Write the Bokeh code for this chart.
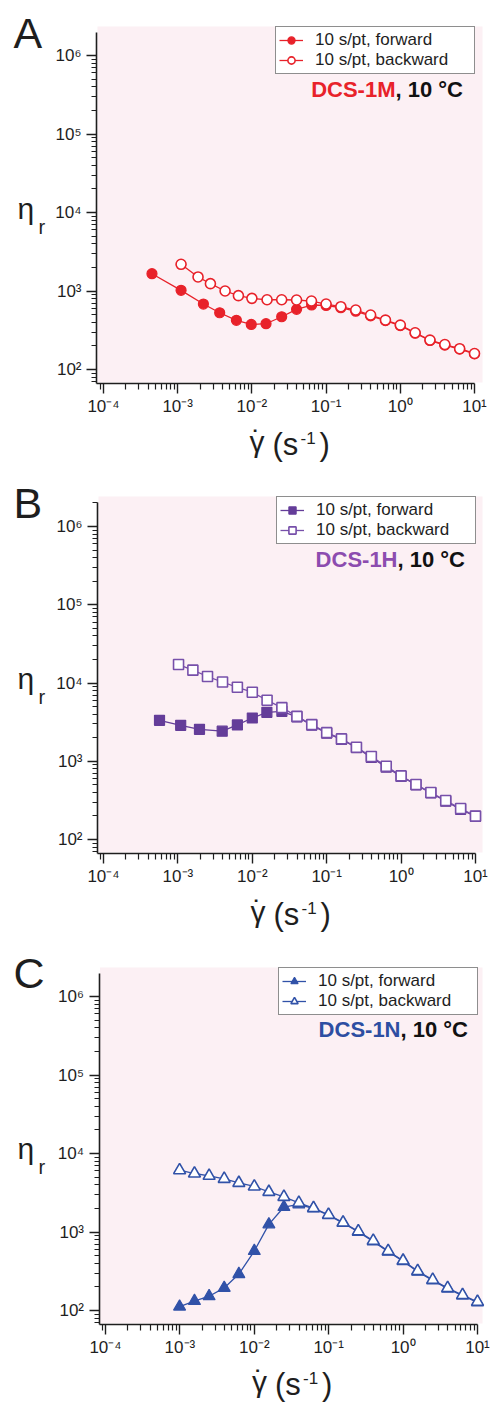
from bokeh.plotting import figure
from bokeh.layouts import column
from bokeh.models import (Range1d, FixedTicker, CustomJSTickFormatter, Label,
                          Legend, LegendItem, BoxAnnotation)
from bokeh.embed import file_html
from bokeh.resources import INLINE

# ---------------- data ----------------
# Panel A: DCS-1M, circles
a_fwd_rate = [4.5e-4, 1.11e-3, 2.22e-3, 3.68e-3, 6.18e-3, 9.8e-3, 0.0155, 0.0252, 0.040, 0.0638,
              0.1, 0.158, 0.251, 0.398, 0.631, 1.0, 1.585, 2.512, 3.981, 6.31, 10.0]
a_fwd_eta = [1660, 1020, 682, 528, 423, 375, 383, 470, 584, 663,
             655, 612, 552, 482, 420, 362, 290, 234, 205, 182, 158]
a_bwd_rate = [1.11e-3, 1.88e-3, 2.76e-3, 4.35e-3, 6.58e-3, 0.01, 0.016, 0.0252, 0.040, 0.0635,
              0.1, 0.158, 0.251, 0.398, 0.631, 1.0, 1.585, 2.512, 3.981, 6.31, 10.0]
a_bwd_eta = [2190, 1510, 1240, 1000, 872, 806, 774, 774, 768, 745,
             682, 631, 572, 494, 426, 368, 294, 237, 208, 184, 160]

# Panel B: DCS-1H, squares
b_fwd_rate = [5.66e-4, 1.09e-3, 1.95e-3, 3.94e-3, 6.3e-3, 0.01, 0.0157, 0.025, 0.0398, 0.063,
              0.1, 0.158, 0.251, 0.398, 0.631, 1.0, 1.585, 2.512, 3.981, 6.31, 10.0]
b_fwd_eta = [3330, 2880, 2560, 2420, 2910, 3570, 4220, 4350, 3700, 2900,
             2290, 1900, 1490, 1120, 840, 640, 500, 395, 308, 243, 197]
b_bwd_rate = [1.02e-3, 1.59e-3, 2.5e-3, 3.98e-3, 6.3e-3, 0.01, 0.0158, 0.025, 0.0398, 0.063,
              0.1, 0.158, 0.251, 0.398, 0.631, 1.0, 1.585, 2.512, 3.981, 6.31, 10.0]
b_bwd_eta = [17200, 14600, 12100, 10300, 8820, 7620, 6010, 4840, 3750, 2940,
             2320, 1930, 1510, 1150, 864, 650, 504, 398, 315, 249, 199]

# Panel C: DCS-1N, triangles
c_fwd_rate = [9.9e-4, 1.57e-3, 2.47e-3, 3.94e-3, 6.2e-3, 0.01, 0.0157, 0.025, 0.0397, 0.0625,
              0.0994, 0.156, 0.25, 0.397, 0.63, 1.0, 1.57, 2.5, 3.97, 6.3, 10.0]
c_fwd_eta = [112, 132, 152, 194, 291, 572, 1250, 2080, 2250, 1990,
             1640, 1300, 1000, 760, 560, 425, 312, 242, 190, 155, 127]
c_bwd_rate = [9.9e-4, 1.57e-3, 2.47e-3, 3.94e-3, 6.2e-3, 0.01, 0.0157, 0.025, 0.0397, 0.0625,
              0.0994, 0.156, 0.25, 0.397, 0.63, 1.0, 1.57, 2.5, 3.97, 6.3, 10.0]
c_bwd_eta = [6120, 5560, 5190, 4750, 4220, 3800, 3240, 2800, 2350, 2020,
             1660, 1320, 1020, 774, 571, 431, 318, 246, 193, 157, 129]

legend_labels = ["10 s/pt, forward", "10 s/pt, backward"]
x_major_ticks = [1e-4, 1e-3, 1e-2, 1e-1, 1e0, 1e1]
y_major_ticks = [1e2, 1e3, 1e4, 1e5, 1e6]

# ---------------- style ----------------
FONT = "Liberation Sans"
INK = "#1e1e1e"
BG = "#fcf0f4"
W, H = 491, 470

fmt_code = """
const sup = {"-":"\u207B","0":"\u2070","1":"\u00B9","2":"\u00B2","3":"\u00B3",
             "4":"\u2074","5":"\u2075","6":"\u2076","7":"\u2077","8":"\u2078","9":"\u2079"};
const e = Math.round(Math.log10(tick));
return "10" + String(e).split("").map(c => sup[c]).join("");
"""


def minor_list(lo_exp, hi_exp, lo, hi):
    out = []
    for k in range(lo_exp, hi_exp + 1):
        for m in range(2, 10):
            v = m * 10.0 ** k
            if lo <= v <= hi:
                out.append(v)
    return out


def make_panel(letter, sample, sample_color, marker, msize, color, open_color,
               fx, fy, bx, by, geo):
    # geo: pixel layout of the panel (canvas px from top-left)
    x0px, x1px, axpx, y2px, y6px, toppx, botpx, split = geo
    sx = (x1px - x0px) / 5.0          # px per decade in x
    sy = (y2px - y6px) / 4.0          # px per decade in y

    def xdata(px):
        return 10 ** (-4 + (px - x0px) / sx)

    def ydata(py):
        return 10 ** (2 - (py - y2px) / sy)

    p = figure(x_axis_type="log", y_axis_type="log", width=W, height=H,
               min_border=0, min_border_left=0, min_border_right=0,
               min_border_top=0, min_border_bottom=0,
               x_range=Range1d(xdata(0), xdata(W)), y_range=Range1d(ydata(H), ydata(0)),
               output_backend="svg", toolbar_location=None)
    p.background_fill_color = "white"
    p.border_fill_color = "white"
    p.outline_line_color = None
    p.xgrid.visible = False
    p.ygrid.visible = False

    # pink plotting area
    p.add_layout(BoxAnnotation(left=xdata(axpx + 1), right=xdata(482),
                               bottom=ydata(botpx - 1), top=ydata(toppx - 6),
                               fill_color=BG, fill_alpha=1.0, line_color=None,
                               level="underlay"))

    xax = p.xaxis[0]
    yax = p.yaxis[0]
    xax.fixed_location = ydata(botpx)
    yax.fixed_location = xdata(axpx)
    xax.bounds = (xdata(axpx), 10.0)
    yax.bounds = (ydata(botpx), ydata(toppx))
    xax.ticker = FixedTicker(ticks=x_major_ticks,
                             minor_ticks=minor_list(-5, 0, xdata(axpx), 10.0))
    yax.ticker = FixedTicker(ticks=y_major_ticks,
                             minor_ticks=minor_list(0, 6, ydata(botpx), ydata(toppx)))
    for ax in (xax, yax):
        ax.formatter = CustomJSTickFormatter(code=fmt_code)
        ax.axis_line_color = INK
        ax.axis_line_width = 1.6
        ax.major_tick_line_color = INK
        ax.minor_tick_line_color = INK
        ax.major_tick_line_width = 1.4
        ax.minor_tick_line_width = 1.2
        ax.major_tick_in = 0
        ax.minor_tick_in = 0
        ax.major_label_text_font = FONT
        ax.major_label_text_font_size = "17px"
        ax.major_label_text_color = INK
    xax.major_tick_out = 10
    xax.minor_tick_out = 6
    xax.major_label_standoff = 3
    yax.major_tick_out = 10
    yax.minor_tick_out = 5
    yax.major_label_standoff = 5

    lf = p.line(fx, fy, line_color=color, line_width=1.3)
    sf = p.scatter(fx, fy, marker=marker, size=msize, fill_color=color,
                   line_color=color, line_width=1.2)
    lb = p.line(bx, by, line_color=open_color, line_width=1.3)
    sb = p.scatter(bx, by, marker=marker, size=msize, fill_color="white",
                   line_color=open_color, line_width=1.6)

    legend = Legend(items=[LegendItem(label=legend_labels[0], renderers=[lf, sf]),
                           LegendItem(label=legend_labels[1], renderers=[lb, sb])],
                    location=(x1px - 199, H - toppx - 42),
                    padding=3, spacing=0, margin=0,
                    glyph_width=24, glyph_height=18, label_height=18,
                    label_standoff=12, label_width=156,
                    label_text_font=FONT, label_text_font_size="17px",
                    label_text_color=INK,
                    border_line_color=INK, border_line_width=1.3,
                    background_fill_color="white", background_fill_alpha=1.0)
    p.add_layout(legend)

    def lab(x, yc, text, size, **kw):
        # yc: vertical centre of the text line, canvas px from top
        p.add_layout(Label(x=x, y=H - yc, x_units="screen", y_units="screen",
                           text=text, text_font=FONT, text_font_size=size,
                           text_baseline="middle", **kw))

    # panel letter
    lab(13, 32, letter, "43px", text_color=INK)
    # sample name + temperature
    lab(split, 89, sample, "22px", text_font_style="bold", text_color=sample_color,
        text_align="right")
    lab(split, 89, ", 10 \u00B0C", "22px", text_font_style="bold", text_color="#111111",
        text_align="left")
    # y label: eta_r
    lab(17, 208, "\u03B7", "30px", text_color=INK)
    lab(38, 226, "r", "20px", text_color=INK)
    # x label: gamma-dot (s^-1), built from pieces
    gx = axpx + 153
    lab(gx, 441, "\u03B3", "30px", text_color=INK)
    lab(gx + 7, 440, "\u02D9", "30px", text_color=INK, text_align="center")
    lab(gx + 23, 444, "(s", "31px", text_color=INK)
    lab(gx + 51, 437, "-1", "17px", text_color=INK)
    lab(gx + 70, 444, ")", "31px", text_color=INK)
    return p


RED = "#e8222a"
PURPLE = "#643d99"
PURPLE_OPEN = "#7750aa"
PURPLE_TXT = "#8c4caf"
BLUE = "#3152a8"
BLUE_TXT = "#2d4ea2"

# (10^-4 px, 10^1 px, y-axis px, 10^2 px, 10^6 px, axis top px, x-axis px, title split px)
geo_A = (103, 474, 96, 369, 55, 32, 383, 395)
geo_B = (103, 475, 97, 369, 56, 32, 383, 397)
geo_C = (105, 477, 98.5, 370, 56, 33, 384, 400)

pA = make_panel("A", "DCS-1M", RED, "circle", 10, RED, RED,
                a_fwd_rate, a_fwd_eta, a_bwd_rate, a_bwd_eta, geo_A)
pB = make_panel("B", "DCS-1H", PURPLE_TXT, "square", 10, PURPLE, PURPLE_OPEN,
                b_fwd_rate, b_fwd_eta, b_bwd_rate, b_bwd_eta, geo_B)
pC = make_panel("C", "DCS-1N", BLUE_TXT, "triangle", 12, BLUE, BLUE,
                c_fwd_rate, c_fwd_eta, c_bwd_rate, c_bwd_eta, geo_C)

layout = column(pA, pB, pC, spacing=0)

open("out.html", "w").write(file_html(layout, INLINE))
